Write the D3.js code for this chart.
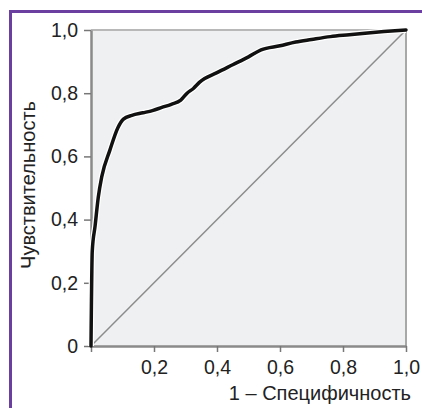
<!DOCTYPE html>
<html><head><meta charset="utf-8">
<script src="https://cdn.jsdelivr.net/npm/d3@7"></script>
<style>body{margin:0;background:#fff;}svg{display:block;font-family:"Liberation Sans",Arial,sans-serif;}</style>
</head><body>
<svg id="c" width="422" height="408"></svg>
<script>
const fpr = [0, 0.004, 0.013, 0.023, 0.034, 0.06, 0.085, 0.103, 0.13, 0.165, 0.195, 0.225, 0.255, 0.285, 0.305, 0.325, 0.345, 0.40, 0.45, 0.50, 0.54, 0.60, 0.65, 0.70, 0.76, 0.82, 0.87, 0.93, 1.0];
const tpr = [0, 0.30, 0.38, 0.47, 0.535, 0.62, 0.69, 0.718, 0.73, 0.738, 0.745, 0.755, 0.765, 0.778, 0.80, 0.815, 0.835, 0.865, 0.89, 0.915, 0.937, 0.95, 0.962, 0.97, 0.979, 0.985, 0.99, 0.995, 1.0];
const xTicks = [0.2, 0.4, 0.6, 0.8, 1.0];
const yTicks = [0, 0.2, 0.4, 0.6, 0.8, 1.0];
const xTitle = "1 – Специфичность";
const yTitle = "Чувствительность";

const svg = d3.select("#c");
const x = d3.scaleLinear().domain([0,1]).range([91,406]);
const y = d3.scaleLinear().domain([0,1]).range([346,30]);
const fmt = d => d === 0 ? "0" : d3.format(".1f")(d).replace(".", ",");

// frame
svg.append("line").attr("x1",10).attr("x2",422).attr("y1",11.5).attr("y2",11.5).attr("stroke","#6b3fa0").attr("stroke-width",3);
svg.append("line").attr("x1",10.5).attr("x2",10.5).attr("y1",10).attr("y2",408).attr("stroke","#6b3fa0").attr("stroke-width",3);

// plot bg
svg.append("rect").attr("x",x(0)).attr("y",y(1)).attr("width",x(1)-x(0)).attr("height",y(0)-y(1)).attr("fill","#eff0f2");
svg.append("line").attr("x1",x(0)).attr("x2",x(1)).attr("y1",y(1)).attr("y2",y(1)).attr("stroke","#b8b8b8").attr("stroke-width",2);
svg.append("line").attr("x1",x(1)).attr("x2",x(1)).attr("y1",y(1)).attr("y2",y(0)).attr("stroke","#a8a8a8").attr("stroke-width",2);

// axes
const gx = svg.append("g").attr("transform",`translate(0,${y(0)})`)
  .call(d3.axisBottom(x).tickValues([0].concat(xTicks)).tickFormat(d => d===0 ? "" : fmt(d)).tickSizeOuter(0).tickSizeInner(6).tickPadding(8));
const gy = svg.append("g").attr("transform",`translate(${x(0)},0)`)
  .call(d3.axisLeft(y).tickValues(yTicks).tickFormat(fmt).tickSizeOuter(0).tickSizeInner(7).tickPadding(6));
[gx, gy].forEach(g => {
  g.select(".domain").attr("stroke","#8a8a8a").attr("stroke-width",2.5);
  g.selectAll(".tick line").attr("stroke","#777").attr("stroke-width",1.5);
  g.selectAll(".tick text").attr("fill","#222").style("font-size","19.5px").style("font-family","'Liberation Sans',Arial,sans-serif");
});

// diagonal
svg.append("line").attr("x1",x(0)).attr("y1",y(0)).attr("x2",x(1)).attr("y2",y(1)).attr("stroke","#8c8c8c").attr("stroke-width",1.5);

// ROC curve
const pts = fpr.map((f,i)=>[f,tpr[i]]);
const line = d3.line().x(d=>x(d[0])).y(d=>y(d[1])).curve(d3.curveMonotoneX);
svg.append("path").datum(pts).attr("d",line).attr("fill","none").attr("stroke","#fff").attr("stroke-width",6).attr("stroke-linejoin","round");
svg.append("path").datum(pts).attr("d",line).attr("fill","none").attr("stroke","#111").attr("stroke-width",3.5).attr("stroke-linejoin","round").attr("stroke-linecap","round");

// titles
svg.append("text").attr("x",411).attr("y",400).attr("text-anchor","end").attr("fill","#222").style("font-size","20px").text(xTitle);
svg.append("text").attr("transform","translate(35,185) rotate(-90)").attr("text-anchor","middle").attr("fill","#222").style("font-size","20px").text(yTitle);
</script>
</body></html>
